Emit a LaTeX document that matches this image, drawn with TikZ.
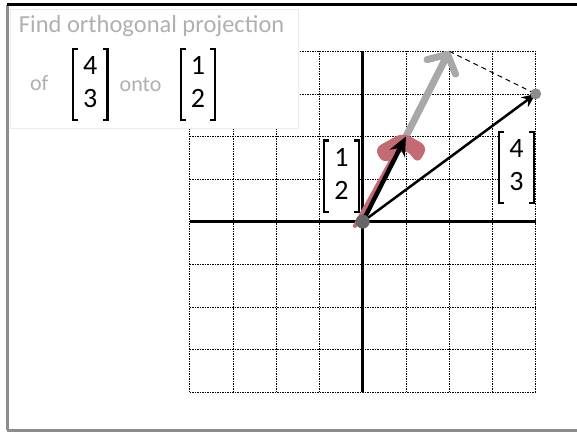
\documentclass[tikz,border=0pt]{standalone}
\usepackage{fontspec}
\setmainfont{Carlito}
\usetikzlibrary{arrows.meta,positioning}
\definecolor{projgray}{HTML}{A8A8A8}
\definecolor{markpink}{HTML}{C46A72}
\definecolor{framegray}{HTML}{8C8C8C}
\definecolor{textgray}{HTML}{B0B0B0}
\newcommand{\colvec}[2]{\begin{tabular}{@{}c@{}}#1\\#2\end{tabular}}
\newcommand{\brackets}[1]{%
  \draw[bracketline] ([xshift=5pt]#1.north west) -- (#1.north west) -- (#1.south west) -- ([xshift=5pt]#1.south west);
  \draw[bracketline] ([xshift=-5pt]#1.north east) -- (#1.north east) -- (#1.south east) -- ([xshift=-5pt]#1.south east);}
\tikzset{gridline/.style={black, line width=0.7pt, dash pattern=on 1.5pt off 1pt},
  axisline/.style={black, line width=2.6pt},
  veclabel/.style={fill=white, inner xsep=10pt, inner ysep=2.5pt, font=\fontsize{28}{33}\selectfont},
  bracketline/.style={black, line width=2.2pt},
  graytext/.style={text=textgray, inner sep=1pt, font=\fontsize{22}{26}\selectfont},
  vecarrow/.style={black, line cap=round},
  framerule/.style={line width=3pt}}

\begin{document}
\begin{tikzpicture}[x=43.25pt, y=42.6pt, node distance=12pt]
  \useasboundingbox (-8.386,-4.937) rectangle (4.955,5.204);
  % grid and axes
  \foreach \k in {-4,...,4} {
    \draw[gridline] (\k,-4) -- (\k,4);
    \draw[gridline] (-4,\k) -- (4,\k);
  }
  \draw[axisline] (-4,0) -- (4,0);
  \draw[axisline] (0,-4) -- (0,4);
  % question box
  \filldraw[fill=white, draw=black!8, line width=0.6pt] (-8.15,4.98) rectangle (-1.496,2.2);
  \node[graytext, font=\fontsize{24.5}{28}\selectfont] (title) at (-4.88,4.6) {Find orthogonal projection};
  \node[graytext] (of) at (-7.48,3.26) {of};
  \node[veclabel] (qA) at (-6.30,3.22) {\colvec{4}{3}};
  \node[graytext, right=11pt of qA] (onto) {onto};
  \node[veclabel, right=18pt of onto] (qB) {\colvec{1}{2}};
  \brackets{qA}
  \brackets{qB}
  % vector labels
  \node[veclabel] (labB) at (-0.49,1.07) {\colvec{1}{2}};
  \node[veclabel] (labA) at (3.556,1.27) {\colvec{4}{3}};
  \brackets{labB}
  \brackets{labA}
  % vectors
  \coordinate (O) at (0,0);
  \coordinate (A) at (4,3);
  \coordinate (B) at (1,2);
  \coordinate (P) at (2,4);
  \coordinate (pinkstart) at (-0.18,-0.1);
  \coordinate (pinkend) at (0.72,1.55);
  \draw[black, line width=1pt, dash pattern=on 5pt off 4pt] (P) -- (A);
  \draw[projgray, line width=7pt, -{Straight Barb[length=14pt,width=32pt,round]}] (B) -- (P);
  % pink marker under the short vector
  \draw[markpink, line width=4pt, line cap=round] (pinkstart) -- (pinkend);
  \fill[markpink, rounded corners=8pt] ([shift={(-3pt,4pt)}]B) -- ([shift={(-32pt,-12pt)}]B)
    -- ([shift={(-22pt,-28pt)}]B) -- ([shift={(0pt,-12pt)}]B) -- ([shift={(12pt,-28pt)}]B)
    -- ([shift={(22pt,-10pt)}]B) -- cycle;
  \draw[vecarrow, line width=2.5pt, -{Stealth[length=14pt,width=12pt]}] (O) -- (A);
  \draw[vecarrow, line width=4.5pt, -{Stealth[length=19pt,width=17pt]}] (O) -- (B);
  \fill[black!60] (O) circle (7pt);
  \fill[black!45] (A) circle (5.5pt);
  % frame
  \draw[framerule, framegray] (-8.224,5.087) -- (-8.224,-4.89);
  \draw[framerule, black] (-8.224,5.087) -- (4.955,5.087);
  \draw[framerule, framegray] (-8.224,-4.89) -- (4.955,-4.89);
\end{tikzpicture}
\end{document}
